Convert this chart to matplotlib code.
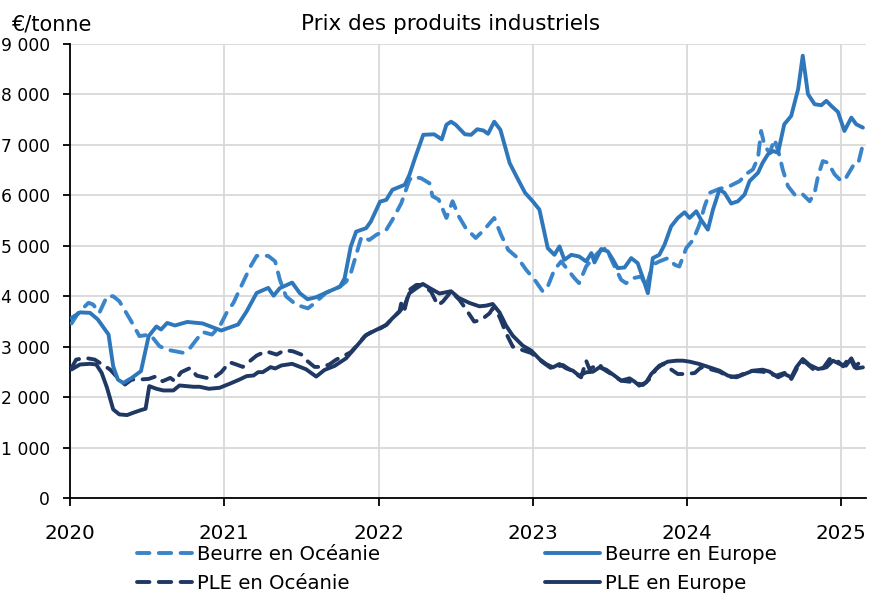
import matplotlib
matplotlib.use("Agg")
import matplotlib.pyplot as plt
from matplotlib.ticker import FuncFormatter, MultipleLocator

# prices in EUR/tonne, dates in decimal years
beurre_eu_t = [2020.01, 2020.065, 2020.13, 2020.18, 2020.25, 2020.28, 2020.31, 2020.345, 2020.40, 2020.46,
               2020.51, 2020.56, 2020.59, 2020.63, 2020.68, 2020.76, 2020.86, 2020.98, 2021.09, 2021.145,
               2021.21, 2021.285, 2021.32, 2021.36, 2021.44, 2021.49, 2021.54, 2021.595, 2021.66, 2021.75,
               2021.78, 2021.82, 2021.855, 2021.92, 2021.95, 2022.01, 2022.05, 2022.09, 2022.17, 2022.20,
               2022.24, 2022.29, 2022.36, 2022.41, 2022.44, 2022.47, 2022.50, 2022.56, 2022.60, 2022.64,
               2022.68, 2022.71, 2022.75, 2022.79, 2022.85, 2022.90, 2022.95, 2023.0, 2023.043, 2023.076,
               2023.097, 2023.14, 2023.173, 2023.205, 2023.25, 2023.30, 2023.346, 2023.38, 2023.40, 2023.443,
               2023.486, 2023.52, 2023.55, 2023.595, 2023.638, 2023.68, 2023.714, 2023.746, 2023.778, 2023.82,
               2023.854, 2023.897, 2023.94, 2023.984, 2024.016, 2024.06, 2024.09, 2024.135, 2024.168, 2024.21,
               2024.243, 2024.286, 2024.33, 2024.373, 2024.405, 2024.46, 2024.49, 2024.524, 2024.557, 2024.59,
               2024.63, 2024.675, 2024.72, 2024.75, 2024.784, 2024.827, 2024.87, 2024.903, 2024.935, 2024.978,
               2025.02, 2025.065, 2025.097, 2025.14]
beurre_eu = [3570, 3680, 3670, 3540, 3240, 2610, 2350, 2280, 2380, 2515,
             3210, 3400, 3340, 3470, 3420, 3490, 3460, 3320, 3440, 3700,
             4065, 4165, 4010, 4160, 4270, 4060, 3940, 3980, 4070, 4190,
             4355, 4985, 5280, 5350, 5480, 5875, 5910, 6110, 6210, 6405,
             6770, 7200, 7210, 7110, 7400, 7460, 7400, 7210, 7200, 7310,
             7285, 7220, 7460, 7300, 6640, 6340, 6050, 5880, 5717, 5253,
             4954, 4821, 4987, 4722, 4821, 4788, 4690, 4855, 4670, 4935,
             4889, 4722, 4557, 4570, 4756, 4656, 4358, 4060, 4756, 4821,
             5021, 5386, 5552, 5664, 5552, 5684, 5519, 5320, 5717, 6115,
             6049, 5837, 5883, 6016, 6281, 6447, 6645, 6812, 6878, 6845,
             7408, 7574, 8105, 8768, 8005, 7806, 7786, 7873, 7773, 7654,
             7276, 7541, 7408, 7342]

beurre_oc_t = [2020.01, 2020.054, 2020.12, 2020.15, 2020.19, 2020.24, 2020.28, 2020.32, 2020.39, 2020.45,
               2020.52, 2020.58, 2020.63, 2020.68, 2020.73, 2020.77, 2020.82, 2020.86, 2020.92, 2020.97,
               2021.015, 2021.06, 2021.11, 2021.17, 2021.21, 2021.285, 2021.33, 2021.36, 2021.40, 2021.467,
               2021.542, 2021.585, 2021.66, 2021.75, 2021.79, 2021.82, 2021.877, 2021.89, 2021.94, 2021.985,
               2022.05, 2022.09, 2022.147, 2022.20, 2022.22, 2022.275, 2022.33, 2022.35, 2022.39, 2022.44,
               2022.48, 2022.52, 2022.565, 2022.63, 2022.685, 2022.75, 2022.794, 2022.84, 2022.903, 2022.957,
               2023.02, 2023.065, 2023.097, 2023.14, 2023.184, 2023.227, 2023.27, 2023.30, 2023.346, 2023.39,
               2023.432, 2023.476, 2023.52, 2023.573, 2023.605, 2023.65, 2023.703, 2023.735, 2023.778, 2023.82,
               2023.876, 2023.92, 2023.95, 2023.995, 2024.04, 2024.08, 2024.114, 2024.146, 2024.21, 2024.276,
               2024.34, 2024.395, 2024.427, 2024.46, 2024.48, 2024.503, 2024.535, 2024.568, 2024.60, 2024.62,
               2024.654, 2024.697, 2024.74, 2024.795, 2024.827, 2024.849, 2024.88, 2024.914, 2024.957, 2025.0,
               2025.03, 2025.075, 2025.108, 2025.14]
beurre_oc = [3460, 3670, 3870, 3835, 3670, 4000, 4000, 3900, 3540, 3210,
             3240, 3010, 2940, 2910, 2880, 2940, 3140, 3290, 3240, 3400,
             3670, 3870, 4200, 4590, 4800, 4800, 4690, 4330, 4000, 3830,
             3760, 3860, 4070, 4190, 4290, 4455, 5050, 5180, 5115, 5215,
             5315, 5515, 5840, 6300, 6370, 6340, 6240, 5983, 5916, 5552,
             5883, 5585, 5353, 5154, 5320, 5552, 5220, 4922, 4756, 4524,
             4292, 4093, 4193, 4524, 4690, 4524, 4358, 4259, 4590, 4756,
             4889, 4955, 4656, 4325, 4259, 4358, 4391, 4193, 4623, 4690,
             4756, 4623, 4590, 4955, 5121, 5419, 5784, 6049, 6129, 6182,
             6281, 6447, 6513, 6745, 7276, 6978, 6845, 7110, 6778, 6513,
             6182, 6016, 6049, 5883, 6049, 6381, 6679, 6645, 6414, 6281,
             6347, 6579, 6612, 7010]

ple_eu_t = [2020.01, 2020.065, 2020.13, 2020.17, 2020.205, 2020.24, 2020.28, 2020.32, 2020.37, 2020.41,
            2020.46, 2020.49, 2020.514, 2020.56, 2020.605, 2020.67, 2020.71, 2020.80, 2020.84, 2020.90,
            2020.97, 2021.04, 2021.10, 2021.145, 2021.19, 2021.22, 2021.25, 2021.30, 2021.33, 2021.37,
            2021.44, 2021.49, 2021.53, 2021.596, 2021.65, 2021.715, 2021.79, 2021.855, 2021.92, 2021.985,
            2022.05, 2022.09, 2022.136, 2022.17, 2022.20, 2022.245, 2022.287, 2022.33, 2022.395, 2022.47,
            2022.52, 2022.59, 2022.654, 2022.697, 2022.74, 2022.784, 2022.827, 2022.87, 2022.935, 2022.99,
            2023.043, 2023.086, 2023.13, 2023.173, 2023.216, 2023.26, 2023.30, 2023.346, 2023.39, 2023.432,
            2023.476, 2023.53, 2023.573, 2023.627, 2023.66, 2023.69, 2023.735, 2023.768, 2023.82, 2023.876,
            2023.93, 2023.973, 2024.016, 2024.08, 2024.146, 2024.21, 2024.265, 2024.32, 2024.373, 2024.427,
            2024.49, 2024.535, 2024.59, 2024.632, 2024.676, 2024.708, 2024.75, 2024.795, 2024.849, 2024.903,
            2024.946, 2024.99, 2025.03, 2025.065, 2025.097, 2025.14]
ple_eu = [2548, 2647, 2660, 2647, 2482, 2185, 1756, 1657, 1644, 1690,
          1743, 1769, 2218, 2165, 2132, 2132, 2231, 2205, 2205, 2165,
          2185, 2271, 2350, 2416, 2429, 2495, 2495, 2594, 2568, 2627,
          2660, 2600, 2552, 2407, 2539, 2618, 2770, 3001, 3233, 3332,
          3431, 3563, 3695, 3828, 4059, 4158, 4244, 4165, 4053, 4099,
          3967, 3866, 3800, 3813, 3846, 3681, 3416, 3218, 3020, 2921,
          2755, 2656, 2590, 2656, 2570, 2524, 2425, 2491, 2504, 2590,
          2544, 2425, 2326, 2372, 2306, 2227, 2293, 2458, 2623, 2703,
          2722, 2722, 2703, 2656, 2590, 2524, 2425, 2392, 2458, 2524,
          2544, 2504, 2392, 2458, 2392, 2590, 2755, 2636, 2557, 2590,
          2722, 2656, 2623, 2769, 2570, 2590]

ple_oc_t = [2020.01, 2020.04, 2020.10, 2020.16, 2020.26, 2020.31, 2020.356, 2020.40, 2020.45, 2020.51,
            2020.56, 2020.60, 2020.65, 2020.68, 2020.72, 2020.78, 2020.82, 2020.885, 2020.94, 2020.98,
            2021.035, 2021.08, 2021.12, 2021.165, 2021.21, 2021.27, 2021.305, 2021.34, 2021.39, 2021.445,
            2021.50, 2021.54, 2021.585, 2021.63, 2021.68, 2021.726, 2021.77, 2021.82, 2021.866, 2021.91,
            2021.963, 2022.006, 2022.05, 2022.09, 2022.136, 2022.15, 2022.17, 2022.20, 2022.245, 2022.287,
            2022.34, 2022.385, 2022.417, 2022.47, 2022.525, 2022.57, 2022.62, 2022.665, 2022.72, 2022.74,
            2022.784, 2022.827, 2022.87, 2022.935, 2022.99, 2023.065, 2023.12, 2023.195, 2023.26, 2023.313,
            2023.346, 2023.367, 2023.432, 2023.45, 2023.508, 2023.573, 2023.66, 2023.714, 2023.757, 2023.80,
            2023.843, 2023.886, 2023.94, 2023.995, 2024.05, 2024.09, 2024.146, 2024.21, 2024.276, 2024.34,
            2024.405, 2024.49, 2024.578, 2024.643, 2024.676, 2024.719, 2024.762, 2024.816, 2024.881, 2024.924,
            2024.968, 2025.011, 2025.054, 2025.086, 2025.119, 2025.14]
ple_oc = [2579, 2744, 2777, 2744, 2546, 2381, 2249, 2348, 2348, 2361,
          2414, 2315, 2381, 2315, 2493, 2579, 2427, 2381, 2401, 2493,
          2691, 2645, 2599, 2711, 2824, 2909, 2876, 2843, 2929, 2909,
          2843, 2711, 2599, 2599, 2645, 2744, 2810, 2890, 3042, 3207,
          3306, 3352, 3431, 3563, 3700, 3900, 3750, 4125, 4224, 4224,
          4092, 3820, 3894, 4092, 3927, 3728, 3497, 3530, 3662, 3761,
          3596, 3266, 3001, 2930, 2874, 2689, 2570, 2636, 2504, 2392,
          2722, 2557, 2656, 2570, 2458, 2326, 2293, 2240, 2359, 2557,
          2656, 2570, 2458, 2458, 2478, 2590, 2557, 2504, 2392, 2425,
          2524, 2504, 2425, 2491, 2359, 2610, 2703, 2557, 2570, 2755,
          2742, 2610, 2788, 2590, 2689, 2703]

years = [2020, 2021, 2022, 2023, 2024, 2025]

light_oc = "#3A85CA"
light_eu = "#2E77BB"
navy = "#1F3864"

plt.rcParams["font.family"] = ["DejaVu Sans"]

fig = plt.figure(figsize=(8.72, 5.94), dpi=100)
ax = fig.add_axes([70 / 872, 96 / 594, 796 / 872, 454 / 594])

dash = (3.2, 2.4)
lw = 2.8
l_bo, = ax.plot(beurre_oc_t, beurre_oc, color=light_oc, lw=lw, dashes=dash,
                dash_capstyle="round", solid_joinstyle="round", label="Beurre en Océanie", zorder=3)
l_be, = ax.plot(beurre_eu_t, beurre_eu, color=light_eu, lw=lw, solid_capstyle="round",
                solid_joinstyle="round", label="Beurre en Europe", zorder=4)
l_po, = ax.plot(ple_oc_t, ple_oc, color=navy, lw=lw, dashes=dash,
                dash_capstyle="round", label="PLE en Océanie", zorder=3)
l_pe, = ax.plot(ple_eu_t, ple_eu, color=navy, lw=lw, solid_capstyle="round",
                solid_joinstyle="round", label="PLE en Europe", zorder=4)

ax.set_xlim(2020, 2025.16)
ax.set_ylim(0, 9000)
ax.set_xticks(years)
ax.set_xticklabels([str(y) for y in years])
ax.yaxis.set_major_locator(MultipleLocator(1000))
ax.yaxis.set_major_formatter(FuncFormatter(lambda v, p: f"{int(v):,}".replace(",", " ")))

ax.grid(True, color="#D9D9D9", lw=1.3, zorder=0)
ax.set_axisbelow(True)
for s in ["top", "right"]:
    ax.spines[s].set_visible(False)
for s in ["left", "bottom"]:
    ax.spines[s].set_color("black")
    ax.spines[s].set_linewidth(1.3)
ax.tick_params(axis="y", length=5, width=1.3, pad=9.5, labelsize=12.3)
ax.tick_params(axis="x", length=6, width=1.3, pad=13, labelsize=14.3)

fig.text(12 / 872, 1 - 24 / 594, "€/tonne", fontsize=15, va="center", ha="left")
fig.text(451 / 872, 1 - 24 / 594, "Prix des produits industriels", fontsize=15.5,
         va="center", ha="center")

# legend pushed to the bottom edge, two separate columns like the original
leg_kw = dict(frameon=False, fontsize=14.2, handlelength=2.8, handletextpad=0.25,
              labelspacing=0.5, borderpad=0, borderaxespad=0)
leg1 = fig.legend([l_bo, l_po], ["Beurre en Océanie", "PLE en Océanie"], loc="upper left",
                  bbox_to_anchor=(137 / 872, 1 - 545 / 594), **leg_kw)
leg2 = fig.legend([l_be, l_pe], ["Beurre en Europe", "PLE en Europe"], loc="upper left",
                  bbox_to_anchor=(545 / 872, 1 - 545 / 594), **leg_kw)

fig.savefig("out.png", dpi=100)
